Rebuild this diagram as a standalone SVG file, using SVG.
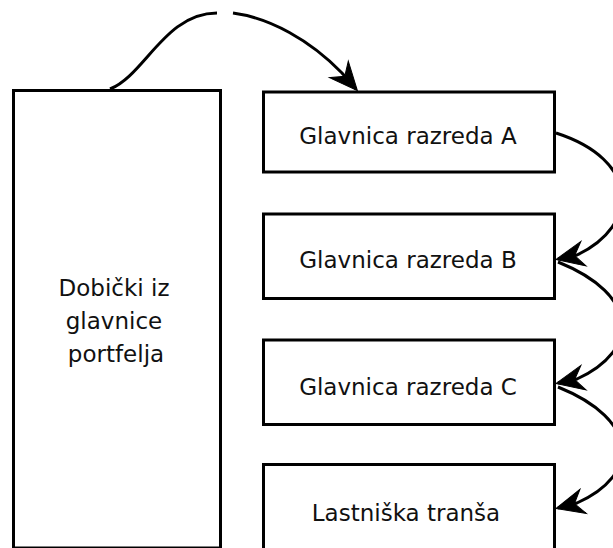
<svg xmlns="http://www.w3.org/2000/svg" width="613" height="548" viewBox="0 0 613 548">
<style>
.box{fill:#fff;stroke:#000;stroke-width:3}
.lbl{font-family:"DejaVu Sans","Verdana",sans-serif;font-size:23px;fill:#111;text-anchor:middle}
.conn{fill:none;stroke:#000;stroke-width:3;stroke-linecap:butt}
</style>
<defs>
<marker id="arr" markerUnits="userSpaceOnUse" markerWidth="34" markerHeight="32" viewBox="-30 -16 34 32" refX="0" refY="0" orient="auto">
<path d="M2,0 L-26,-12.5 L-17,0 L-26,12.5 Z" fill="#000" stroke="#000" stroke-width="1" stroke-linejoin="miter"/>
</marker>
</defs>
<rect width="613" height="548" fill="#fff"/>
<g id="node-portfelj">
<rect class="box" x="13.5" y="90.5" width="207" height="457.5"/>
<text class="lbl" x="114" y="296">Dobički iz</text>
<text class="lbl" x="114" y="329">glavnice</text>
<text class="lbl" x="116" y="362">portfelja</text>
</g>
<g id="node-a">
<rect class="box" x="263.5" y="92" width="291" height="80"/>
<text class="lbl" x="408" y="144">Glavnica razreda A</text>
</g>
<g id="node-b">
<rect class="box" x="263.5" y="214" width="291" height="84.5"/>
<text class="lbl" x="408" y="268">Glavnica razreda B</text>
</g>
<g id="node-c">
<rect class="box" x="263.5" y="340" width="291" height="84.5"/>
<text class="lbl" x="408" y="395">Glavnica razreda C</text>
</g>
<g id="node-d">
<rect class="box" x="263.5" y="464.5" width="291" height="86"/>
<text class="lbl" x="406" y="521">Lastniška tranša</text>
</g>
<g id="connectors">
<path class="conn" d="M110,89 C145,75 165,13 217,13 M233,13 C270,18 310,40 342,73 L356,89" marker-end="url(#arr)"/>
<path class="conn" d="M556,133 C640,160 640,225 577,255 L558,259" marker-end="url(#arr)"/>
<path class="conn" d="M558,262 C640,295 640,350 577,379 L558,383" marker-end="url(#arr)"/>
<path class="conn" d="M558,387 C640,420 640,475 577,503 L558,508" marker-end="url(#arr)"/>
</g>
</svg>
